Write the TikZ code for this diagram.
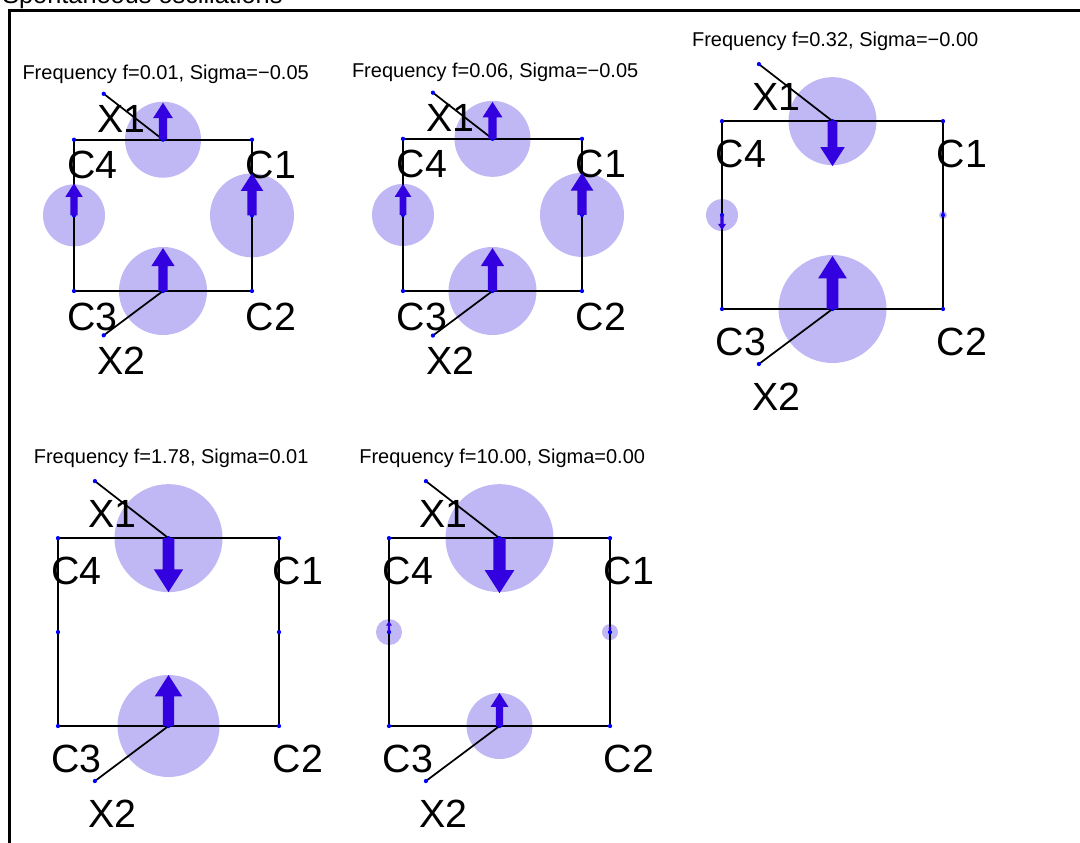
\documentclass[tikz,border=0pt]{standalone}
\usepackage{fontspec}
\setmainfont{Liberation Sans}
\usepackage{xcolor}
\usepackage{tikz}
\usetikzlibrary{calc}
\definecolor{BlobLilac}{RGB}{192, 183, 245}
\definecolor{ModeBlue}{RGB}{51, 0, 224}
\definecolor{DotBlue}{RGB}{0, 0, 255}

\newcommand{\panelpoints}[1]{%
  \coordinate (#1c3) at (0,0);
  \coordinate (#1c2) at (1,0);
  \coordinate (#1c1) at (1,0.85);
  \coordinate (#1c4) at (0,0.85);
  \coordinate (#1top) at (0.5,0.85);
  \coordinate (#1bot) at (0.5,0);
  \coordinate (#1lft) at (0,0.425);
  \coordinate (#1rgt) at (1,0.425);
  \coordinate (#1x1) at (0.167,1.108);
  \coordinate (#1x2) at (0.167,-0.249);
}
% #1 point, #2 radius in px
\newcommand{\modeblob}[2]{\fill[blobfill] (#1) circle[radius=#2*0.75pt];}
% #1 base point, #2 length in px (positive = up)
\newcommand{\modearrow}[2]{%
  \fill[ModeBlue] (#1) ++({-0.11*abs(#2)*0.75pt},0pt) -- ++(0pt,{0.58*#2*0.75pt})
    -- ++({-0.16*abs(#2)*0.75pt},0pt) -- ++({0.27*abs(#2)*0.75pt},{0.42*#2*0.75pt})
    -- ++({0.27*abs(#2)*0.75pt},{-0.42*#2*0.75pt}) -- ++({-0.16*abs(#2)*0.75pt},0pt)
    -- ++(0pt,{-0.58*#2*0.75pt}) -- cycle;
}
% #1 prefix, #2 title, #3 drop of the labels in px
\newcommand{\panelframe}[3]{%
  \draw[wire] (#1c1) -- (#1c2) -- (#1c3) -- (#1c4) -- cycle;
  \draw[lead] (#1x1) -- (#1top);
  \draw[lead] (#1x2) -- (#1bot);
  \foreach \p in {c1,c2,c3,c4,top,bot,lft,rgt,x1,x2}
    \fill[DotBlue] (#1\p) circle[radius=1.6pt];
  \node[paneltitle] (#1title) at ($(0.5,1.19)+(2pt,0pt)$) {#2};
  \foreach \p/\t in {c1/C1,c2/C2,c3/C3,c4/C4,x1/X1,x2/X2}
    \node[cornerlab] (#1\p-lab) at ($(#1\p)+(-5pt,{-(#3+28)*0.75pt})$) {\t};
}

\begin{document}
\begin{tikzpicture}[x=0.75pt, y=-0.75pt,
    blobfill/.style={fill=BlobLilac},
    wire/.style={line width=1.6pt, line join=miter},
    lead/.style={line width=1.3pt},
    paneltitle/.style={anchor=base, inner sep=0pt, font=\fontsize{15}{18}\selectfont},
    cornerlab/.style={anchor=base west, inner sep=0pt, font=\fontsize{29.5}{34}\selectfont}]
  \useasboundingbox (0,0) rectangle (1080,842);
  \clip (0,0) rectangle (1080,842);

  \node[anchor=base west, inner sep=0pt, font=\fontsize{19}{22}\selectfont] (maintitle) at (2,4) {Spontaneous oscillations};
  \draw[line width=2.25pt] (9.5,860) -- (9.5,10.5) -- (1100,10.5);

  % f = 0.01
  \begin{scope}[shift={(74,291)}, x=178*0.75pt, y=178*0.75pt]
    \panelpoints{p1}
    \modeblob{p1top}{38} \modeblob{p1lft}{31} \modeblob{p1rgt}{42} \modeblob{p1bot}{44}
    \panelframe{p1}{Frequency f=0.01, Sigma=−0.05}{11}
    \modearrow{p1top}{37} \modearrow{p1lft}{32} \modearrow{p1rgt}{42} \modearrow{p1bot}{43}
  \end{scope}

  % f = 0.06
  \begin{scope}[shift={(403,291)}, x=179*0.75pt, y=179*0.75pt]
    \panelpoints{p2}
    \modeblob{p2top}{38} \modeblob{p2lft}{31} \modeblob{p2rgt}{42} \modeblob{p2bot}{44}
    \panelframe{p2}{Frequency f=0.06, Sigma=−0.05}{11}
    \modearrow{p2top}{37} \modearrow{p2lft}{31} \modearrow{p2rgt}{42} \modearrow{p2bot}{43}
  \end{scope}

  % f = 0.32
  \begin{scope}[shift={(722,309)}, x=221*0.75pt, y=221*0.75pt]
    \panelpoints{p3}
    \modeblob{p3top}{44} \modeblob{p3lft}{16} \modeblob{p3rgt}{4} \modeblob{p3bot}{54}
    \panelframe{p3}{Frequency f=0.32, Sigma=−0.00}{18}
    \modearrow{p3top}{-45} \modearrow{p3lft}{-15} \modearrow{p3rgt}{4} \modearrow{p3bot}{53}
  \end{scope}

  % f = 1.78
  \begin{scope}[shift={(58,726)}, x=221*0.75pt, y=221*0.75pt]
    \panelpoints{p4}
    \modeblob{p4top}{54} \modeblob{p4bot}{51}
    \panelframe{p4}{Frequency f=1.78, Sigma=0.01}{18}
    \modearrow{p4top}{-54} \modearrow{p4bot}{51}
  \end{scope}

  % f = 10.00
  \begin{scope}[shift={(389,726)}, x=221*0.75pt, y=221*0.75pt]
    \panelpoints{p5}
    \modeblob{p5top}{54} \modeblob{p5lft}{13} \modeblob{p5rgt}{8} \modeblob{p5bot}{33}
    \panelframe{p5}{Frequency f=10.00, Sigma=0.00}{18}
    \modearrow{p5top}{-55} \modearrow{p5lft}{11} \modearrow{p5rgt}{6} \modearrow{p5bot}{33}
  \end{scope}
\end{tikzpicture}
\end{document}
